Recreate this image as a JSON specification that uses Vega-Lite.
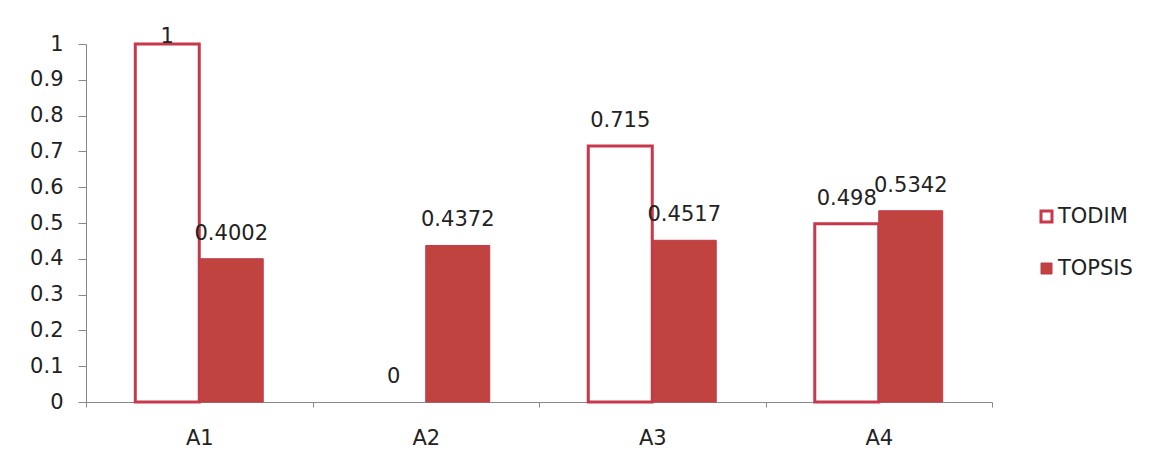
{
  "$schema": "https://vega.github.io/schema/vega-lite/v6.json",
  "width": 906,
  "height": 358,
  "autosize": {"type": "none"},
  "padding": {"left": 86, "top": 44, "right": 159, "bottom": 57},
  "background": "white",
  "data": {
    "values": [
      {"alt": "A1", "method": "TODIM", "value": 1},
      {"alt": "A1", "method": "TOPSIS", "value": 0.4002},
      {"alt": "A2", "method": "TODIM", "value": 0},
      {"alt": "A2", "method": "TOPSIS", "value": 0.4372},
      {"alt": "A3", "method": "TODIM", "value": 0.715},
      {"alt": "A3", "method": "TOPSIS", "value": 0.4517},
      {"alt": "A4", "method": "TODIM", "value": 0.498},
      {"alt": "A4", "method": "TOPSIS", "value": 0.5342}
    ]
  },
  "encoding": {
    "x": {
      "field": "alt",
      "type": "nominal",
      "scale": {"paddingInner": 0, "paddingOuter": 0},
      "axis": {
        "title": null,
        "labelAngle": 0,
        "tickBand": "extent",
        "tickSize": 5,
        "tickColor": "#888888",
        "domainColor": "#888888",
        "labelPadding": 20,
        "labelFontSize": 21,
        "labelColor": "#222222",
        "labelFont": "DejaVu Sans"
      }
    },
    "xOffset": {
      "field": "method",
      "type": "nominal",
      "scale": {"paddingInner": 0, "paddingOuter": 0.77}
    },
    "y": {
      "field": "value",
      "type": "quantitative",
      "scale": {"domain": [0, 1], "nice": false},
      "axis": {
        "title": null,
        "values": [0, 0.1, 0.2, 0.3, 0.4, 0.5, 0.6, 0.7, 0.8, 0.9, 1],
        "format": "~g",
        "grid": false,
        "tickSize": 8,
        "tickColor": "#888888",
        "domainColor": "#888888",
        "labelPadding": 15,
        "labelFontSize": 21,
        "labelColor": "#222222",
        "labelFont": "DejaVu Sans"
      }
    }
  },
  "layer": [
    {
      "transform": [{"filter": "datum.value > 0"}],
      "mark": {"type": "bar", "strokeJoin": "miter"},
      "encoding": {
        "fill": {
          "field": "method",
          "type": "nominal",
          "scale": {"domain": ["TODIM", "TOPSIS"], "range": ["#ffffff", "#c0433f"]},
          "legend": {
            "title": null,
            "orient": "none",
            "legendX": 950,
            "legendY": 162,
            "padding": 0,
            "symbolType": "square",
            "symbolSize": 121,
            "symbolStrokeWidth": 2.5,
            "labelFontSize": 21,
            "labelFont": "DejaVu Sans",
            "labelColor": "#222222",
            "labelOffset": 1,
            "rowPadding": 29
          }
        },
        "stroke": {
          "field": "method",
          "type": "nominal",
          "scale": {"domain": ["TODIM", "TOPSIS"], "range": ["#c8374a", "#c2394a"]},
          "legend": {
            "title": null,
            "orient": "none",
            "legendX": 950,
            "legendY": 162,
            "padding": 0,
            "symbolType": "square",
            "symbolSize": 121,
            "symbolStrokeWidth": 2.5,
            "labelFontSize": 21,
            "labelFont": "DejaVu Sans",
            "labelColor": "#222222",
            "labelOffset": 1,
            "rowPadding": 29
          }
        },
        "strokeWidth": {
          "field": "method",
          "type": "nominal",
          "scale": {"domain": ["TODIM", "TOPSIS"], "range": [3, 1]},
          "legend": null
        }
      }
    },
    {
      "transform": [{"filter": "datum.value < 1"}],
      "mark": {
        "type": "text",
        "baseline": "alphabetic",
        "dy": -19,
        "fontSize": 21,
        "font": "DejaVu Sans",
        "color": "#222222"
      },
      "encoding": {"text": {"field": "value", "type": "quantitative"}}
    },
    {
      "transform": [{"filter": "datum.value >= 1"}],
      "mark": {
        "type": "text",
        "baseline": "alphabetic",
        "dy": -1,
        "fontSize": 21,
        "font": "DejaVu Sans",
        "color": "#222222"
      },
      "encoding": {"text": {"field": "value", "type": "quantitative"}}
    }
  ],
  "config": {"view": {"stroke": null}}
}
